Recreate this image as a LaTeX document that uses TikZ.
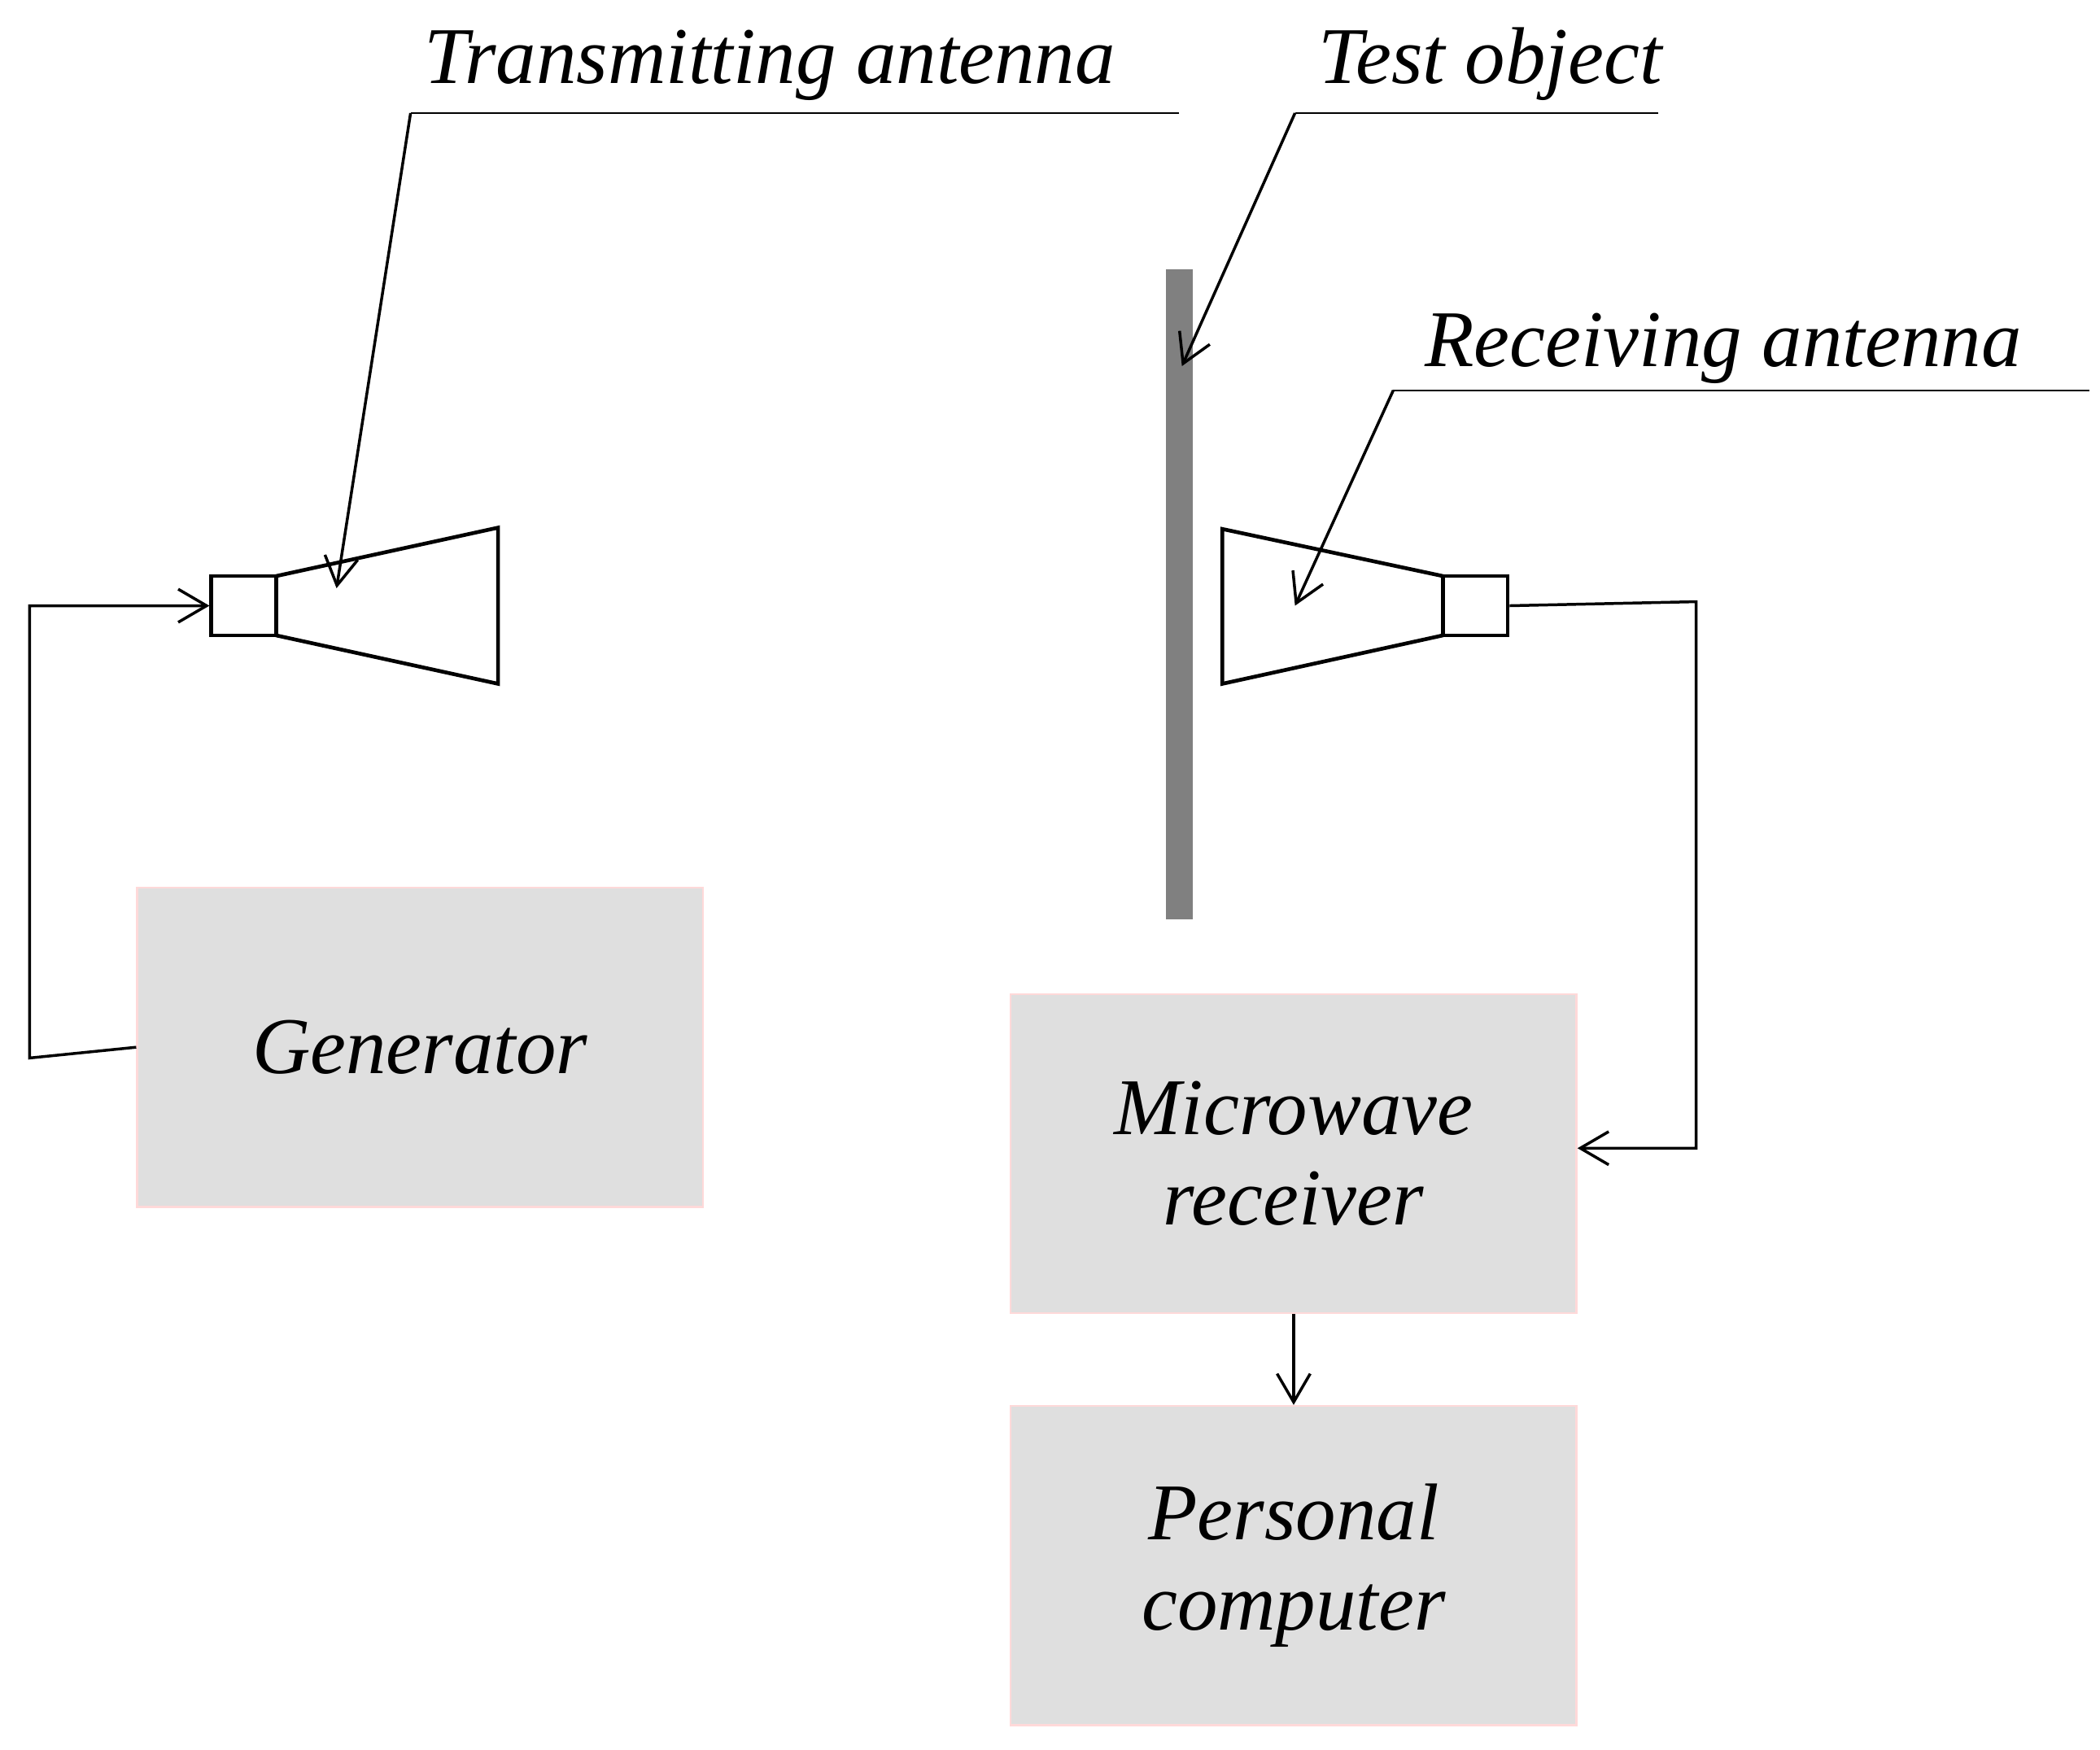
\documentclass[tikz,border=0pt]{standalone}
\usepackage{fontspec}
\setmainfont{Liberation Serif}
\usetikzlibrary{arrows.meta}
\tikzset{
  block/.style={draw=pink!60, fill=gray!25, minimum width=4.2cm, minimum height=2.37cm, align=center, font=\fontsize{17}{19}\selectfont\itshape},
  feed/.style={draw, thick, minimum width=0.48cm, minimum height=0.44cm, inner sep=0pt},
  lbl/.style={font=\fontsize{17}{19}\selectfont\itshape, anchor=base, inner sep=0pt},
  con/.style={-{Straight Barb[length=6pt,width=7pt]}, semithick},
}
\begin{document}
\begin{tikzpicture}[x=0.01cm,y=-0.01cm]
        \useasboundingbox (0,0) rectangle (1560,1300);
        % blocks
        \node[block] (gen) at (312,778) {Generator};
        \node[block] (mwr) at (961,857) {Microwave\\receiver};
        \node[block] (pc) at (961,1163) {Personal\\computer};
        % test object
        \fill[gray] (866,200) rectangle (886,683);
        % antennas
        \node[feed] (txfeed) at (181,450) {};
        \draw[thick] (205,428) -- (370,392) -- (370,508) -- (205,472);
        \node[feed] (rxfeed) at (1096,450) {};
        \draw[thick] (1072,428) -- (908,393) -- (908,508) -- (1072,472);
        % connections
        \draw[con] (gen.west) -- (22,786) -- (22,450) -- (txfeed.west);
        \draw[con] (rxfeed.east) -- (1260,447) -- (1260,853) -- (mwr.east |- 0,853);
        \draw[con] (mwr.south) -- (pc.north);
        % labels
        \node[lbl] (txlbl) at (572,62) {Transmitting antenna};
        \node[lbl] (tolbl) at (1107,62) {Test object};
        \node[lbl] (rxlbl) at (1280,272) {Receiving antenna};
        \coordinate (txtip) at (250,437);
        \coordinate (totip) at (878,272);
        \coordinate (rxtip) at (962,450);
        \draw (876,84) -- (305,84);
        \draw[con] (305,84) -- (txtip);
        \draw (1232,84) -- (962,84);
        \draw[con] (962,84) -- (totip);
        \draw (1552,290) -- (1035,290);
        \draw[con] (1035,290) -- (rxtip);
\end{tikzpicture}
\end{document}
